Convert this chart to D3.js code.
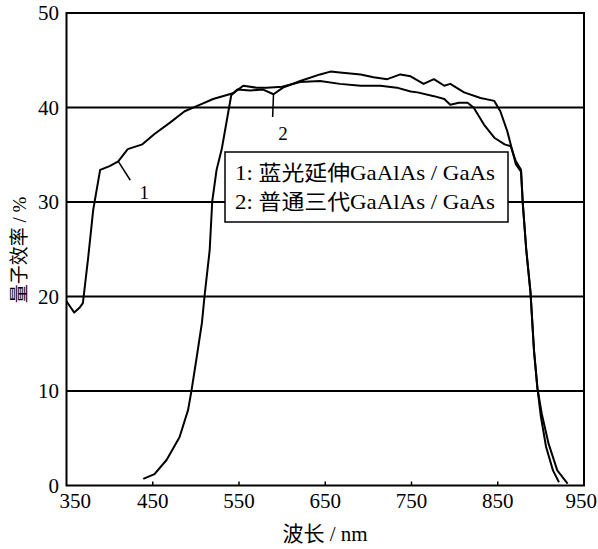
<!DOCTYPE html>
<html><head><meta charset="utf-8">
<script src="https://cdn.jsdelivr.net/npm/d3@7"></script>
<style>
html,body{margin:0;padding:0;background:#fff;}
svg{display:block;}
</style></head>
<body>
<script>
// ---- data ----
const wavelength1 = [350,359,365,369,375,381,389,400,410,421,438,452,470,487,505,520,543,555,570,582,600,621,644,667,691,714,733,749,757,776,788,795,805,815,822,834,846,858,865,871,877,879,883,888,892,896,900,906,914,921];
const qe1 =        [19.5,18.3,18.8,19.3,24.0,29.2,33.4,33.8,34.3,35.6,36.1,37.2,38.4,39.6,40.3,40.9,41.5,42.3,42.1,42.1,42.2,42.7,42.8,42.5,42.3,42.3,42.1,41.7,41.6,41.2,40.9,40.3,40.5,40.5,40.0,38.2,36.8,36.1,35.9,34.3,33.4,29.9,25.0,20.4,14.3,10.3,7.3,4.1,1.6,0.35];
const wavelength2 = [439,452,466,481,491,495,501,507,510,516,519,524,530,536,541,548,563,578,590,601,621,644,656,667,691,706,722,737,749,764,776,788,795,811,830,846,853,861,867,871,877,879,883,888,892,896,901,909,919,931];
const qe2 =        [0.7,1.2,2.7,5.1,8.0,10.1,13.6,17.2,20.0,24.9,30.1,33.4,35.6,38.7,41.3,41.9,41.8,41.9,41.4,42.1,42.8,43.5,43.8,43.7,43.5,43.2,43.0,43.5,43.3,42.5,43.0,42.3,42.5,41.6,41.0,40.7,39.6,37.5,35.4,34.0,33.2,29.9,25.0,20.4,14.3,10.3,7.6,4.4,1.6,0.2];
const xTicks = [350,450,550,650,750,850,950];
const yTicks = [0,10,20,30,40,50];
const legendLabels = ["1: 蓝光延伸GaAlAs / GaAs", "2: 普通三代GaAlAs / GaAs"];
const xTitle = "波长 / nm";
const yTitle = "量子效率 / %";

// ---- layout ----
const W = 598, H = 549;
const svg = d3.select("body").append("svg").attr("width", W).attr("height", H);
const x = d3.scaleLinear().domain([350, 950]).range([66.5, 584]);
const y = d3.scaleLinear().domain([0, 50]).range([485.5, 13]);
const serif = "'Liberation Serif','Noto Sans CJK SC',serif";

// gridlines
svg.append("g").selectAll("line").data(yTicks.filter(d => d > 0 && d < 50)).join("line")
  .attr("x1", x(350)).attr("x2", x(950)).attr("y1", d => y(d)).attr("y2", d => y(d))
  .attr("stroke", "#000").attr("stroke-width", 2);

// inward ticks on bottom axis
svg.append("g").selectAll("line").data(xTicks.filter(d => d > 350 && d < 950)).join("line")
  .attr("x1", d => x(d)).attr("x2", d => x(d)).attr("y1", y(0)).attr("y2", y(0) - 4)
  .attr("stroke", "#000").attr("stroke-width", 1.5);

// curves
const line = d3.line().x(d => x(d[0])).y(d => y(d[1]));
const s1 = wavelength1.map((w, i) => [w, qe1[i]]);
const s2 = wavelength2.map((w, i) => [w, qe2[i]]);
[s1, s2].forEach(s => {
  svg.append("path").datum(s).attr("d", line).attr("fill", "none")
    .attr("stroke", "#000").attr("stroke-width", 2).attr("stroke-linejoin", "round");
});

// frame
svg.append("rect").attr("x", x(350)).attr("y", y(50)).attr("width", x(950) - x(350)).attr("height", y(0) - y(50))
  .attr("fill", "none").attr("stroke", "#000").attr("stroke-width", 2);

// curve labels with pointers
svg.append("line").attr("x1", x(410)).attr("y1", y(34.3)).attr("x2", x(424)).attr("y2", y(32.3))
  .attr("stroke", "#000").attr("stroke-width", 1.5);
svg.append("text").attr("x", x(440)).attr("y", y(30.3)).attr("text-anchor", "middle")
  .attr("fill", "#000").attr("font-family", serif).attr("font-size", 19).text("1");
svg.append("line").attr("x1", x(590)).attr("y1", y(41.4)).attr("x2", x(589)).attr("y2", y(39.0))
  .attr("stroke", "#000").attr("stroke-width", 1.5);
svg.append("text").attr("x", x(601)).attr("y", y(36.6)).attr("text-anchor", "middle")
  .attr("fill", "#000").attr("font-family", serif).attr("font-size", 19).text("2");

// legend
const lg = svg.append("g");
lg.append("rect").attr("x", 225).attr("y", 152).attr("width", 283).attr("height", 70)
  .attr("fill", "#fff").attr("stroke", "#000").attr("stroke-width", 1.5);
lg.selectAll("text").data(legendLabels).join("text")
  .attr("x", 235).attr("y", (d, i) => 180 + i * 29)
  .attr("fill", "#000").attr("font-family", serif).attr("font-size", 21)
  .attr("textLength", 260).attr("lengthAdjust", "spacingAndGlyphs").text(d => d);

// tick labels
svg.append("g").selectAll("text").data(xTicks).join("text")
  .attr("x", d => d === 350 ? x(d) - 7 : d === 950 ? x(d) + 13 : x(d)).attr("y", 508)
  .attr("text-anchor", d => d === 350 ? "start" : d === 950 ? "end" : "middle")
  .attr("fill", "#000").attr("font-family", serif).attr("font-size", 21).text(d => d);
svg.append("g").selectAll("text").data(yTicks).join("text")
  .attr("x", 59).attr("y", d => y(d) + 7).attr("text-anchor", "end")
  .attr("fill", "#000").attr("font-family", serif).attr("font-size", 21).text(d => d);

// axis titles
svg.append("text").attr("x", 325).attr("y", 541).attr("text-anchor", "middle")
  .attr("fill", "#000").attr("font-family", serif).attr("font-size", 21).text(xTitle);
svg.append("text").attr("transform", "translate(26,250) rotate(-90)").attr("text-anchor", "middle")
  .attr("fill", "#000").attr("font-family", serif).attr("font-size", 19).text(yTitle);
</script>
</body></html>
